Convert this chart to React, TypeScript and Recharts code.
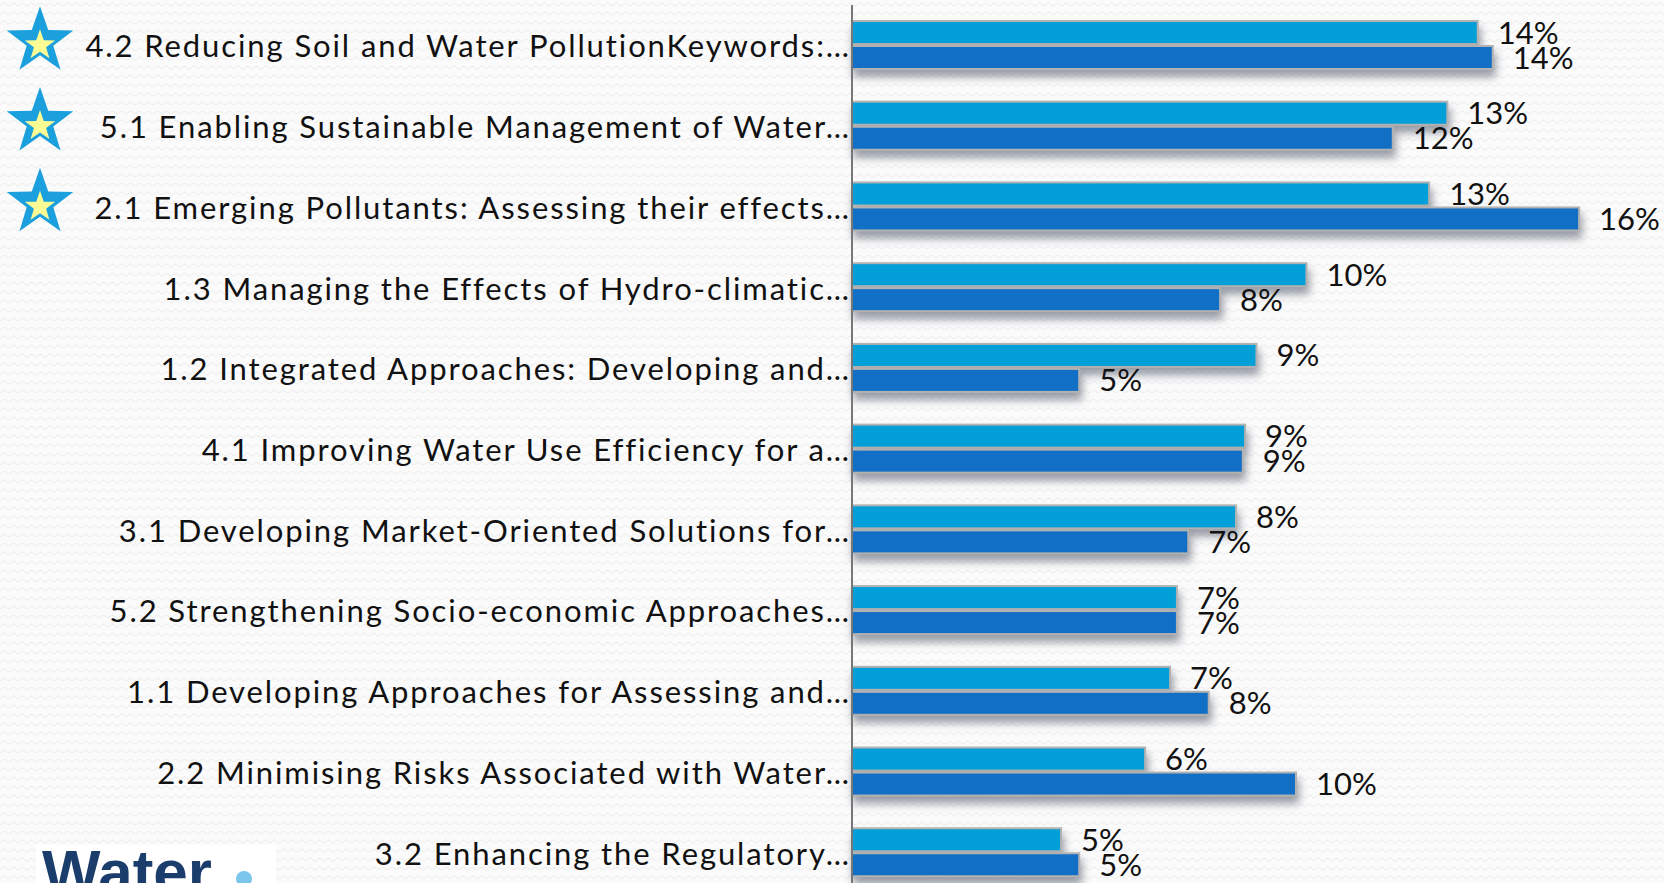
import React from 'react';
import { BarChart, Bar, XAxis, YAxis, LabelList } from 'recharts';

const categories = [
  '4.2 Reducing Soil and Water PollutionKeywords:…',
  '5.1 Enabling Sustainable Management of Water…',
  '2.1 Emerging Pollutants: Assessing their effects…',
  '1.3 Managing the Effects of Hydro-climatic…',
  '1.2 Integrated Approaches: Developing and…',
  '4.1 Improving Water Use Efficiency for a…',
  '3.1 Developing Market-Oriented Solutions for…',
  '5.2 Strengthening Socio-economic Approaches…',
  '1.1 Developing Approaches for Assessing and…',
  '2.2 Minimising Risks Associated with Water…',
  '3.2 Enhancing the Regulatory…',
];
const seriesA = [13.77, 13.1, 12.7, 10.0, 8.9, 8.65, 8.45, 7.15, 7.0, 6.45, 4.6];
const seriesB = [14.1, 11.9, 16.0, 8.1, 5.0, 8.6, 7.4, 7.15, 7.85, 9.77, 5.0];
// topics marked with a star in the original slide
const starred = [true, true, true, false, false, false, false, false, false, false, false];

const data = categories.map((name, i) => ({ name, a: seriesA[i], b: seriesB[i], star: starred[i] }));

const FONT = 'Lato, "Open Sans", sans-serif';
const pattern =
  "url(\"data:image/svg+xml;utf8,<svg xmlns='http://www.w3.org/2000/svg' width='9' height='9'><path d='M0 6 L4.5 3 L9 6' stroke='%23f0f0f0' stroke-width='1.2' fill='none'/></svg>\")";

const starPoints = (cx: number, cy: number, R: number) => {
  const r = R * 0.4;
  const pts: string[] = [];
  for (let k = 0; k < 10; k++) {
    const rad = k % 2 === 0 ? R : r;
    const ang = -Math.PI / 2 + (k * Math.PI) / 5;
    pts.push(`${cx + rad * Math.cos(ang)},${cy + rad * Math.sin(ang)}`);
  }
  return pts.join(' ');
};

const Tick = (props: any) => {
  const { y, payload, index } = props;
  const row = data[index];
  return (
    <g>
      {row && row.star && (
        <g>
          <polygon points={starPoints(40, y - 4, 35)} fill="#1ba0dd" />
          <polygon points={starPoints(40, y, 16)} fill="#fbfb96" />
        </g>
      )}
      <text
        x={851}
        y={y}
        textAnchor="end"
        dominantBaseline="central"
        fontSize={31}
        fontFamily={FONT}
        letterSpacing={1.9}
        fill="#111"
      >
        {payload.value}
      </text>
    </g>
  );
};

const BarShape = (props: any) => {
  const { x, y, width, height, fill } = props;
  if (!width || width <= 0) return null;
  return (
    <rect
      x={x}
      y={y}
      width={width}
      height={height}
      fill={fill}
      stroke="#b2b2b2"
      strokeWidth={2}
      style={{ filter: 'drop-shadow(2px 7px 4px rgba(50,60,80,0.5))' }}
    />
  );
};

export default function App() {
  return (
    <div
      style={{
        position: 'fixed',
        top: 0,
        left: 0,
        width: 1664,
        height: 883,
        overflow: 'hidden',
        backgroundColor: '#fbfbfb',
        backgroundImage: pattern,
      }}
    >
      <BarChart
        width={1670}
        height={893}
        data={data}
        layout="vertical"
        margin={{ top: 5, right: 0, bottom: 0, left: 0 }}
        barSize={23}
        barGap={2}
        barCategoryGap={30}
      >
        <XAxis type="number" domain={[0, 18]} hide />
        <YAxis
          type="category"
          dataKey="name"
          width={852}
          axisLine={{ stroke: '#777', strokeWidth: 2 }}
          tickLine={false}
          tickSize={0}
          tick={<Tick />}
          interval={0}
        />
        <Bar dataKey="a" fill="#029fd9" shape={<BarShape />} isAnimationActive={false}>
          <LabelList
            dataKey="a"
            position="right"
            offset={20}
            formatter={(v: any) => `${Math.round(Number(v))}%`}
            style={{ fontSize: 31, fontFamily: FONT, fill: '#111' }}
          />
        </Bar>
        <Bar dataKey="b" fill="#116fc6" shape={<BarShape />} isAnimationActive={false}>
          <LabelList
            dataKey="b"
            position="right"
            offset={20}
            formatter={(v: any) => `${Math.round(Number(v))}%`}
            style={{ fontSize: 31, fontFamily: FONT, fill: '#111' }}
          />
        </Bar>
      </BarChart>
      <div
        style={{
          position: 'absolute',
          left: 36,
          top: 845,
          width: 240,
          height: 60,
          background: '#fff',
          overflow: 'hidden',
        }}
      >
        <span
          style={{
            position: 'absolute',
            left: 6,
            top: -4,
            fontFamily: '"Liberation Sans", Arial, sans-serif',
            fontWeight: 700,
            fontSize: 62,
            color: '#1b3d6c',
            lineHeight: 1,
          }}
        >
          Water
        </span>
        <span
          style={{
            position: 'absolute',
            left: 200,
            top: 26,
            width: 16,
            height: 16,
            borderRadius: 8,
            background: '#7cc6ec',
          }}
        />
      </div>
    </div>
  );
}
